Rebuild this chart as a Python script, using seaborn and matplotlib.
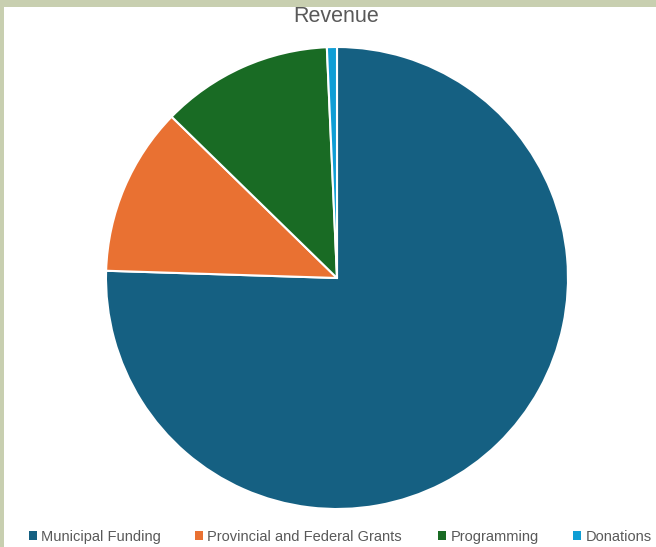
import matplotlib
matplotlib.use("Agg")
import matplotlib.pyplot as plt
import seaborn as sns
from matplotlib.patches import Rectangle

categories = ["Municipal Funding", "Provincial and Federal Grants", "Programming", "Donations"]
values = [75.5, 11.8, 12.0, 0.7]
colors = ["#156082", "#E97132", "#196B24", "#0F9ED5"]
legend_x = [29, 195, 438, 573]  # left edge of each legend entry, px

sns.set_theme(style="white")
plt.rcParams['font.family'] = ['Liberation Sans', 'DejaVu Sans']

fig = plt.figure(figsize=(6.56, 5.47), dpi=100)
fig.patch.set_facecolor("white")

W, H = 656, 547
# light frame on top and left edges
fig.patches.append(Rectangle((0, 1 - 7 / H), 1, 7 / H, transform=fig.transFigure,
                             facecolor="#C8CFB0", edgecolor="none", zorder=0))
fig.patches.append(Rectangle((0, 0), 4 / W, 1, transform=fig.transFigure,
                             facecolor="#C8CFB0", edgecolor="none", zorder=0))

cx, cy, r = 337, H - 278, 231
ax = fig.add_axes([(cx - r) / W, (cy - r) / H, 2 * r / W, 2 * r / H])

wedges, _ = ax.pie(values, colors=colors, startangle=90, counterclock=False,
                   wedgeprops=dict(edgecolor="white", linewidth=1.5), radius=1)
ax.set_xlim(-1, 1)
ax.set_ylim(-1, 1)
ax.set_aspect("equal")
ax.axis("off")

fig.text(336 / W, 1 - 17 / H, "Revenue", ha="center", va="center",
         fontsize=15.5, color="#595959")

# one legend per entry so the spacing follows the reference
for wedge, label, x in zip(wedges, categories, legend_x):
    leg = fig.legend([wedge], [label], loc="center left", bbox_to_anchor=(x / W, 1 - 537 / H),
                     frameon=False, fontsize=10.5, handlelength=0.55, handleheight=0.55,
                     handletextpad=0.3, borderpad=0, borderaxespad=0, labelcolor="#595959")
    for h in leg.legend_handles:
        h.set_edgecolor("none")

fig.savefig("out.png", dpi=100, facecolor="white")
